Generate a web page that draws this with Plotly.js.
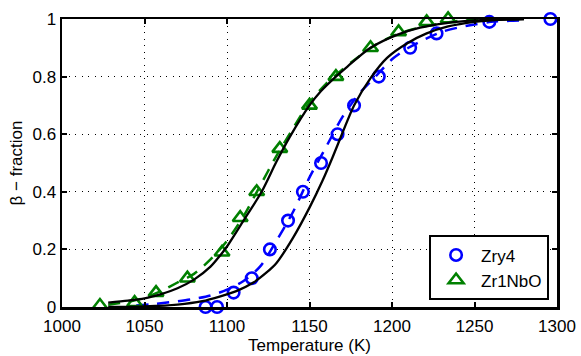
<!DOCTYPE html>
<html>
<head>
<meta charset="utf-8">
<script src="https://cdn.plot.ly/plotly-3.0.1.min.js"></script>
<style>
  html, body { margin: 0; padding: 0; background: #fff; }
  #plot { width: 581px; height: 356px; }
</style>
</head>
<body>
<div id="plot"></div>
<script>
// measured points
let tZry4 = [1087, 1094, 1104, 1115, 1126, 1137, 1146, 1157, 1167, 1177, 1192, 1211, 1227, 1259, 1296];
let fZry4 = [0, 0, 0.05, 0.10, 0.20, 0.30, 0.40, 0.50, 0.60, 0.70, 0.80, 0.90, 0.95, 0.99, 1.0];

let tZr1NbO = [1023, 1044, 1057, 1076, 1097, 1108, 1118, 1132, 1150, 1166, 1187, 1204, 1221, 1234];
let fZr1NbO = [0.005, 0.015, 0.05, 0.10, 0.19, 0.31, 0.40, 0.55, 0.70, 0.80, 0.90, 0.955, 0.99, 1.0];

// dashed curves
let tDashZry4 = [1045, 1055, 1070, 1080, 1090, 1100, 1110, 1120, 1130, 1140, 1150, 1160, 1170, 1180, 1190, 1200, 1210, 1220, 1230, 1240, 1260, 1280];
let fDashZry4 = [0.005, 0.01, 0.02, 0.028, 0.04, 0.06, 0.09, 0.14, 0.23, 0.33, 0.45, 0.555, 0.66, 0.74, 0.80, 0.86, 0.90, 0.93, 0.955, 0.97, 0.99, 0.995];

let tDashZr1NbO = [1028, 1040, 1050, 1060, 1070, 1080, 1090, 1100, 1110, 1120, 1130, 1140, 1150, 1160, 1170, 1180, 1190, 1200, 1210, 1220, 1240, 1260, 1280];
let fDashZr1NbO = [0.008, 0.018, 0.032, 0.055, 0.085, 0.115, 0.165, 0.23, 0.315, 0.42, 0.525, 0.62, 0.71, 0.775, 0.825, 0.87, 0.91, 0.94, 0.96, 0.975, 0.993, 0.999, 1.0];

// black fit curves
let tFitZry4 = [1028, 1050, 1070, 1085, 1096, 1106, 1116, 1124, 1130, 1140, 1150, 1158, 1164, 1170, 1177, 1187, 1197, 1209, 1221, 1234, 1250, 1265, 1280];
let fFitZry4 = [0, 0.002, 0.008, 0.02, 0.037, 0.056, 0.085, 0.12, 0.153, 0.24, 0.345, 0.44, 0.52, 0.605, 0.70, 0.795, 0.865, 0.915, 0.95, 0.974, 0.99, 0.997, 1.0];

let tFitZr1NbO = [1028, 1040, 1050, 1060, 1070, 1080, 1090, 1096, 1100, 1110, 1121, 1130, 1138, 1150, 1157, 1166, 1173, 1187, 1203, 1217, 1233, 1250, 1280];
let fFitZr1NbO = [0.015, 0.022, 0.03, 0.045, 0.065, 0.095, 0.14, 0.18, 0.21, 0.30, 0.40, 0.505, 0.59, 0.70, 0.75, 0.80, 0.835, 0.90, 0.945, 0.97, 0.986, 0.995, 1.0];

let xTicks = [1000, 1050, 1100, 1150, 1200, 1250, 1300];
let yTicks = [0, 0.2, 0.4, 0.6, 0.8, 1];

let blue = 'rgb(0,0,255)';
let green = 'rgb(0,128,0)';

let dashZry4 = {
    x: tDashZry4, y: fDashZry4,
    mode: 'lines', type: 'scatter', showlegend: false,
    line: { color: blue, width: 2.5, dash: '12px,9px', shape: 'spline', smoothing: 0.8 }
};
let dashZr1NbO = {
    x: tDashZr1NbO, y: fDashZr1NbO,
    mode: 'lines', type: 'scatter', showlegend: false,
    line: { color: green, width: 2.5, dash: '12px,9px', shape: 'spline', smoothing: 0.8 }
};
let ptsZry4 = {
    x: tZry4, y: fZry4, name: 'Zry4',
    mode: 'markers', type: 'scatter', cliponaxis: false,
    marker: { symbol: 'circle-open', size: 11.5, color: blue, line: { color: blue, width: 2.6 } }
};
let ptsZr1NbO = {
    x: tZr1NbO, y: fZr1NbO, name: 'Zr1NbO',
    mode: 'markers', type: 'scatter', cliponaxis: false,
    marker: { symbol: 'triangle-up-open', size: 13, color: green, line: { color: green, width: 2.6 } }
};
let fitZry4 = {
    x: tFitZry4, y: fFitZry4,
    mode: 'lines', type: 'scatter', showlegend: false, cliponaxis: false,
    line: { color: 'black', width: 2.3, shape: 'spline', smoothing: 0.8 }
};
let fitZr1NbO = {
    x: tFitZr1NbO, y: fFitZr1NbO,
    mode: 'lines', type: 'scatter', showlegend: false, cliponaxis: false,
    line: { color: 'black', width: 2.3, shape: 'spline', smoothing: 0.8 }
};

let axisCommon = {
    showline: true, linecolor: 'black', linewidth: 2.5, mirror: 'ticks',
    ticks: 'inside', ticklen: 5, tickwidth: 2, tickcolor: 'black',
    showgrid: true, gridcolor: 'black', gridwidth: 1, griddash: '1px,5.5px',
    zeroline: false,
    tickfont: { family: 'Liberation Sans, Arial, sans-serif', size: 17, color: 'black' }
};

let layout = {
    width: 581, height: 356,
    margin: { l: 62, r: 24, t: 19, b: 49 },
    paper_bgcolor: 'white', plot_bgcolor: 'white',
    font: { family: 'Liberation Sans, Arial, sans-serif', size: 17, color: 'black' },
    xaxis: Object.assign({}, axisCommon, {
        range: [1000, 1300], tickvals: xTicks, ticktext: xTicks.map(String),
        ticklabelstandoff: 2,
        title: { text: 'Temperature (K)', standoff: 3, font: { size: 17 } }
    }),
    yaxis: Object.assign({}, axisCommon, {
        range: [0, 1], tickvals: yTicks, ticktext: yTicks.map(String),
        title: { text: 'β − fraction', standoff: 6, font: { size: 17 } }
    }),
    showlegend: true,
    legend: {
        x: 0.984, xanchor: 'right', y: 0.023, yanchor: 'bottom',
        bgcolor: 'white', bordercolor: 'black', borderwidth: 2,
        font: { size: 17 }, itemwidth: 40
    }
};

Plotly.newPlot('plot', [dashZry4, dashZr1NbO, ptsZry4, ptsZr1NbO, fitZry4, fitZr1NbO], layout, { staticPlot: true });
</script>
</body>
</html>
